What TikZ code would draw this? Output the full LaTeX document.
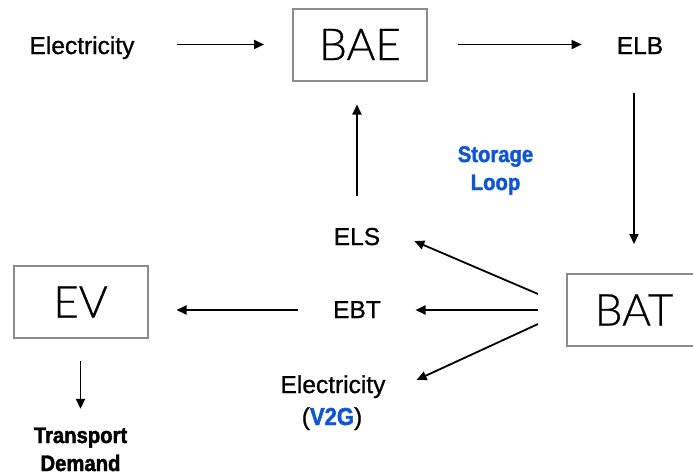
\documentclass[tikz,border=0pt]{standalone}
\usepackage{fontspec}
\usetikzlibrary{arrows.meta,calc}
\setmainfont[FakeBold=0.9]{Liberation Sans}
\newfontfamily\condbold[FakeStretch=0.9,FakeBold=1.8]{Liberation Sans Bold}
\IfFontExistsTF{Lato Light}{\newfontfamily\biglight[FakeBold=0.6]{Lato Light}}{%
  \IfFontExistsTF{Fira Sans Light}{\newfontfamily\biglight{Fira Sans Light}}{%
    \newfontfamily\biglight[FakeStretch=0.88]{Liberation Sans}}}
\definecolor{boxgray}{RGB}{140,140,140}
\definecolor{loopblue}{RGB}{16,86,210}
\begin{document}
\begin{tikzpicture}[x=1pt,y=-1pt,
  box/.style={draw=boxgray, line width=2pt, minimum width=134pt, minimum height=72pt,
    inner sep=0pt, font=\biglight\fontsize{44}{48}\selectfont},
  txt/.style={inner sep=0pt, anchor=base, font=\fontsize{24.5}{28}\selectfont},
  cond/.style={inner sep=0pt, anchor=base, font=\condbold\fontsize{22.5}{28}\selectfont},
  arr/.style={line width=1.8pt, -{Triangle[length=10pt,width=9pt]}}]
\useasboundingbox (0,0) rectangle (693,475);
% boxes
\node[box] (BAE) at (360,44.5) {BAE};
\node[box] (EV) at (80.5,302) {EV};
\node[box] (BAT) at (634,310) {BAT};
% labels
\node[txt] (elecA) at (82,54) {Electricity};
\node[txt] (ELB) at (640,54) {ELB};
\node[txt] (ELS) at (357,245) {ELS};
\node[txt] (EBT) at (357,318) {EBT};
\node[txt] (elecB) at (333,393) {Electricity};
\node[txt] (v2g) at (332,425) {(\textcolor{loopblue}{\condbold V2G})};
\node[cond, text=loopblue, align=center, anchor=base] (loop) at (495.5,190) {Storage\\Loop};
\node[cond, align=center, anchor=base] (td) at (80.5,471) {Transport\\Demand};
% connectors
\draw[arr, shorten <=42pt, shorten >=28pt] (elecA.east |- BAE.west) -- (BAE.west);
\draw[arr, shorten <=30pt] (BAE.east) -- ([xshift=-35pt]ELB.west |- BAE.east);
\draw[arr, shorten <=39pt, shorten >=29pt] (BAT.north |- ELB.south) -- (BAT.north);
\draw[arr, shorten <=32pt, shorten >=23pt] (ELS.north) -- (ELS.north |- BAE.south);
\draw[arr] ([xshift=-28pt,yshift=16pt]BAT.west) -- ([xshift=34pt,yshift=-4.5pt]ELS.east);
\draw[arr, shorten <=28pt, shorten >=34.5pt] (BAT.west) -- (EBT.east |- BAT.west);
\draw[arr] ([xshift=-28pt,yshift=-14pt]BAT.west) -- ([xshift=31pt,yshift=6.75pt]elecB.east);
\draw[arr, shorten <=34.5pt, shorten >=28pt] (EBT.west |- BAT.west) -- (EV.east |- BAT.west);
\draw[arr, shorten <=21.5pt, shorten >=18.5pt] (EV.south) -- (EV.south |- td.north);
\end{tikzpicture}
\end{document}
